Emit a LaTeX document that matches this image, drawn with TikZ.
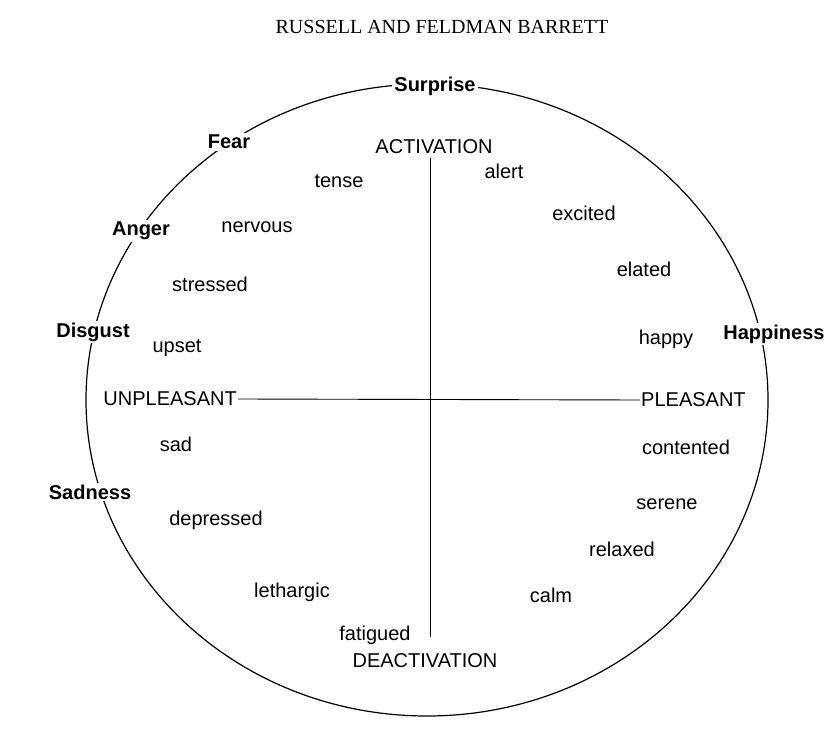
\documentclass[tikz,border=0pt]{standalone}
\usepackage{fontspec}
\setmainfont{Liberation Sans}
\newfontfamily\titlefont{Liberation Serif}
\begin{document}
\begin{tikzpicture}[x=1pt,y=-1pt,
  word/.style={font=\fontsize{20}{23}\selectfont, inner sep=1pt},
  emo/.style={font=\fontsize{20}{23}\selectfont\bfseries, fill=white, inner sep=2pt},
  axis/.style={font=\fontsize{20}{23}\selectfont, inner sep=1pt},
  rim/.style={line width=1.2pt},
  axisline/.style={line width=0.9pt}]
\useasboundingbox (0,0) rectangle (835,735);
\node[font=\titlefont\fontsize{20}{23}\selectfont] (title) at (442,27) {RUSSELL AND FELDMAN BARRETT};

% outer circumplex
\draw[rim] (427,400) ellipse [x radius=341, y radius=316];

% axes
\node[axis] (act) at (434,147) {ACTIVATION};
\node[axis] (deact) at (425,661) {DEACTIVATION};
\node[axis, anchor=east] (unp) at (238,399) {UNPLEASANT};
\node[axis, anchor=west] (pls) at (640,400) {PLEASANT};
\coordinate (vtop) at (430,158);
\coordinate (vbot) at (430,637);
\draw[axisline] (vtop) -- (vbot);
\draw[axisline] (unp.east) -- (pls.west);

% basic emotions on the rim
\node[emo] (surprise) at (435,86) {Surprise};
\node[emo] (fear) at (229,142) {Fear};
\node[emo] (anger) at (141,231) {Anger};
\node[emo] (disgust) at (93,332) {Disgust};
\node[emo] (happiness) at (774,334) {Happiness};
\node[emo] (sadness) at (90,492) {Sadness};

% affect words
\node[word] (tense) at (339,181) {tense};
\node[word] (alert) at (504,171) {alert};
\node[word] (excited) at (584,213) {excited};
\node[word] (nervous) at (257,227) {nervous};
\node[word] (stressed) at (210,284) {stressed};
\node[word] (elated) at (644,269) {elated};
\node[word] (upset) at (177,348) {upset};
\node[word] (happy) at (666,339) {happy};
\node[word] (sad) at (176,444) {sad};
\node[word] (contented) at (686,447) {contented};
\node[word] (depressed) at (216,520) {depressed};
\node[word] (serene) at (667,504) {serene};
\node[word] (relaxed) at (622,549) {relaxed};
\node[word] (lethargic) at (292,592) {lethargic};
\node[word] (calm) at (551,595) {calm};
\node[word] (fatigued) at (375,635) {fatigued};
\end{tikzpicture}
\end{document}
